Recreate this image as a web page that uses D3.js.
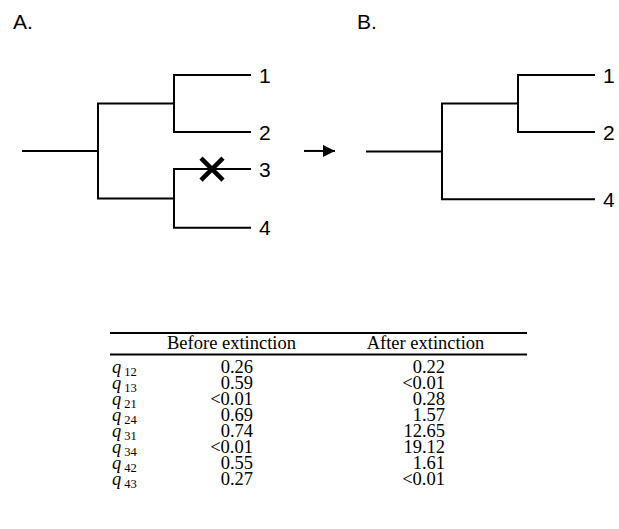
<!DOCTYPE html>
<html>
<head>
<meta charset="utf-8">
<script src="https://cdn.jsdelivr.net/npm/d3@7"></script>
<style>
  html, body { margin: 0; padding: 0; background: #fff; }
  svg { display: block; }
</style>
</head>
<body>
<svg id="chart" width="619" height="529"></svg>
<script>
// ---------- DATA ----------
// Tree A (before extinction): ((1,2),(3,4)); species 3 goes extinct
const treeA = { name: "root", children: [
  { name: "a12", children: [{ name: "1" }, { name: "2" }] },
  { name: "a34", children: [{ name: "3" }, { name: "4" }] }
]};
// Tree B (after extinction): ((1,2),4)
const treeB = { name: "root", children: [
  { name: "b12", children: [{ name: "1" }, { name: "2" }] },
  { name: "4" }
]};
// vertical rank of each tip (in leaf-spacing units)
const tipRankA = { "1": 0, "2": 1, "3": 1.65, "4": 2.68 };
const tipRankB = { "1": 0, "2": 1, "4": 2.18 };
const extinctTip = "3";

// Table
const rateLabels = ["12", "13", "21", "24", "31", "34", "42", "43"];
const beforeValues = ["0.26", "0.59", "<0.01", "0.69", "0.74", "<0.01", "0.55", "0.27"];
const afterValues  = ["0.22", "<0.01", "0.28", "1.57", "12.65", "19.12", "1.61", "<0.01"];
const columnHeaders = ["Before extinction", "After extinction"];

// ---------- DRAW ----------
const svg = d3.select("#chart");
const sans = "'Liberation Sans', Arial, Helvetica, sans-serif";
const serif = "'Liberation Serif', 'Times New Roman', Times, serif";

const yTip = d3.scaleLinear().domain([0, 1]).range([75, 132]);

function drawTree(data, tipRank, x0, title) {
  const root = d3.hierarchy(data);
  const xDepth = d3.scaleLinear().domain([0, 3]).range([x0, x0 + 228]);
  root.eachAfter(n => {
    if (!n.children) n.py = yTip(tipRank[n.data.name]);
    else n.py = (n.children[0].py + n.children[n.children.length - 1].py) / 2;
    n.px = n.children ? xDepth(n.depth + 1) : xDepth(3);
  });
  const g = svg.append("g");
  g.append("path")
    .attr("d", `M${xDepth(0)},${root.py}H${root.px}`)
    .attr("fill", "none").attr("stroke", "#000").attr("stroke-width", 2);
  g.selectAll("path.link").data(root.links()).join("path")
    .attr("class", "link")
    .attr("d", l => `M${l.source.px},${l.source.py}V${l.target.py}H${l.target.px}`)
    .attr("fill", "none").attr("stroke", "#000").attr("stroke-width", 2)
    .attr("stroke-linejoin", "miter").attr("stroke-linecap", "square");
  g.selectAll("text.tip").data(root.leaves()).join("text")
    .attr("class", "tip")
    .attr("x", d => d.px + 9).attr("y", d => d.py)
    .attr("dy", "0.36em")
    .attr("font-family", sans).attr("font-size", 21)
    .text(d => d.data.name);
  svg.append("text").attr("x", x0 - 9).attr("y", 29)
    .attr("font-family", sans).attr("font-size", 21).text(title);
  return root;
}

const rootA = drawTree(treeA, tipRankA, 22, "A.");
const rootB = drawTree(treeB, tipRankB, 366, "B.");

// extinction cross on tip 3
const t3 = rootA.leaves().find(d => d.data.name === extinctTip);
const cx = (t3.parent.px + t3.px) / 2, cy = t3.py, s = 11;
svg.append("path")
  .attr("d", `M${cx - s},${cy - s}L${cx + s},${cy + s}M${cx - s},${cy + s}L${cx + s},${cy - s}`)
  .attr("stroke", "#000").attr("stroke-width", 4.5).attr("fill", "none");

// arrow between panels
svg.append("defs").append("marker")
  .attr("id", "ah").attr("viewBox", "0 0 10 10").attr("refX", 10).attr("refY", 5)
  .attr("markerWidth", 6).attr("markerHeight", 6).attr("markerUnits", "strokeWidth")
  .attr("orient", "auto")
  .append("path").attr("d", "M0,0L10,5L0,10Z").attr("fill", "#000");
svg.append("line")
  .attr("x1", 304).attr("x2", 335).attr("y1", rootA.py).attr("y2", rootA.py)
  .attr("stroke", "#000").attr("stroke-width", 2).attr("marker-end", "url(#ah)");

// ---------- TABLE ----------
const rowY = d3.scalePoint().domain(rateLabels).range([373, 485]);
const tbl = svg.append("g").attr("font-family", serif).attr("font-size", 18.5);
const tblX0 = 110, tblX1 = 527;
tbl.append("line").attr("x1", tblX0).attr("x2", tblX1).attr("y1", 333).attr("y2", 333)
  .attr("stroke", "#000").attr("stroke-width", 2.2);
tbl.append("line").attr("x1", tblX0).attr("x2", tblX1).attr("y1", 354.5).attr("y2", 354.5)
  .attr("stroke", "#000").attr("stroke-width", 2.2);

const headerX = [231.5, 425.5];
tbl.selectAll("text.hdr").data(columnHeaders).join("text")
  .attr("class", "hdr").attr("x", (d, i) => headerX[i]).attr("y", 349)
  .attr("text-anchor", "middle").text(d => d);

const labels = tbl.selectAll("text.q").data(rateLabels).join("text")
  .attr("class", "q").attr("x", 112).attr("y", d => rowY(d));
labels.append("tspan").attr("font-style", "italic").text("q");
labels.append("tspan").attr("font-size", 12.5).attr("dx", 3).attr("dy", 3).text(d => d);

tbl.selectAll("text.b").data(beforeValues).join("text")
  .attr("class", "b").attr("x", 253).attr("y", (d, i) => rowY(rateLabels[i]))
  .attr("text-anchor", "end").text(d => d);
tbl.selectAll("text.a").data(afterValues).join("text")
  .attr("class", "a").attr("x", 445).attr("y", (d, i) => rowY(rateLabels[i]))
  .attr("text-anchor", "end").text(d => d);
</script>
</body>
</html>
